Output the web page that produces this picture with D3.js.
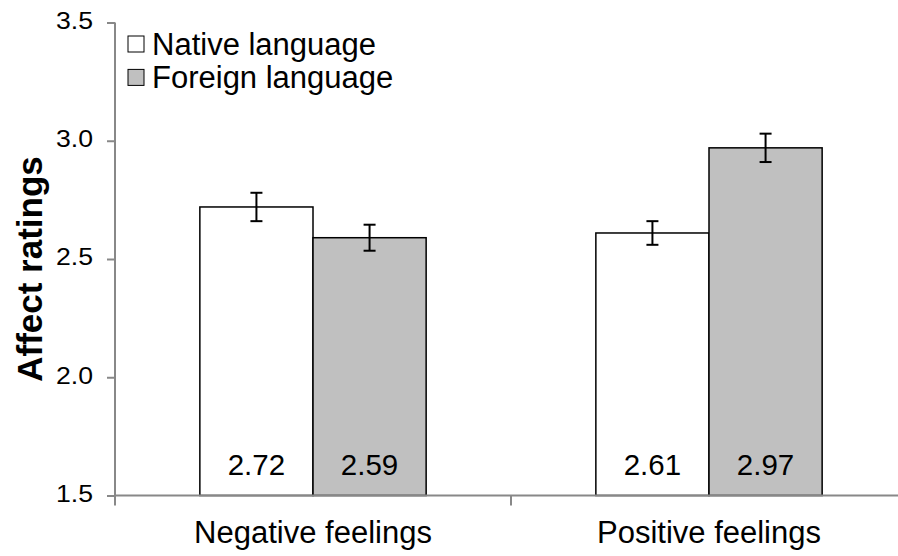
<!DOCTYPE html>
<html>
<head>
<meta charset="utf-8">
<script src="https://cdn.jsdelivr.net/npm/d3@7"></script>
<style>
  html, body { margin: 0; padding: 0; background: #fff; }
  svg { display: block; font-family: "Liberation Sans", Arial, sans-serif; }
</style>
</head>
<body>
<svg id="chart" width="898" height="556"></svg>
<script>
// Affect ratings by feeling type and language
const categories = ["Negative feelings", "Positive feelings"];
const seriesNames = ["Native language", "Foreign language"];
const nativeValues = [2.72, 2.61];
const foreignValues = [2.59, 2.97];
const nativeErrors = [0.06, 0.05];
const foreignErrors = [0.055, 0.06];
const yTicks = [1.5, 2.0, 2.5, 3.0, 3.5];
const yTitle = "Affect ratings";

const seriesFill = ["#ffffff", "#c0c0c0"];
const axisColor = "#888888";

const rows = categories.map((c, i) => ({
  category: c,
  values: [
    { series: seriesNames[0], value: nativeValues[i], err: nativeErrors[i] },
    { series: seriesNames[1], value: foreignValues[i], err: foreignErrors[i] }
  ]
}));

const svg = d3.select("#chart");

const plotLeft = 115, plotRight = 907, plotTop = 22.5, plotBottom = 495.5;

const y = d3.scaleLinear().domain([1.5, 3.5]).range([plotBottom, plotTop]);
const x = d3.scaleBand().domain(categories).range([plotLeft, plotRight]).paddingInner(0).paddingOuter(0);
const xs = d3.scaleBand().domain(seriesNames).range([0, x.bandwidth()]).paddingInner(0).paddingOuter(0.75);

// Bars
const groups = svg.append("g").selectAll("g")
  .data(rows).join("g")
  .attr("transform", d => `translate(${x(d.category)},0)`);

groups.selectAll("rect")
  .data(d => d.values).join("rect")
  .attr("x", d => xs(d.series))
  .attr("y", d => y(d.value))
  .attr("width", xs.bandwidth())
  .attr("height", d => y(1.5) - y(d.value))
  .attr("fill", (d, i) => seriesFill[i])
  .attr("stroke", "#000")
  .attr("stroke-width", 1.5);

// Error bars
const capHalf = 6;
const eb = groups.selectAll("g.err")
  .data(d => d.values).join("g")
  .attr("class", "err")
  .attr("stroke", "#000")
  .attr("stroke-width", 2);
eb.append("line")
  .attr("x1", d => xs(d.series) + xs.bandwidth() / 2)
  .attr("x2", d => xs(d.series) + xs.bandwidth() / 2)
  .attr("y1", d => y(d.value + d.err))
  .attr("y2", d => y(d.value - d.err));
eb.append("line")
  .attr("x1", d => xs(d.series) + xs.bandwidth() / 2 - capHalf)
  .attr("x2", d => xs(d.series) + xs.bandwidth() / 2 + capHalf)
  .attr("y1", d => y(d.value + d.err))
  .attr("y2", d => y(d.value + d.err));
eb.append("line")
  .attr("x1", d => xs(d.series) + xs.bandwidth() / 2 - capHalf)
  .attr("x2", d => xs(d.series) + xs.bandwidth() / 2 + capHalf)
  .attr("y1", d => y(d.value - d.err))
  .attr("y2", d => y(d.value - d.err));

// Value labels inside bars, near the baseline
groups.selectAll("text.val")
  .data(d => d.values).join("text")
  .attr("class", "val")
  .attr("x", d => xs(d.series) + xs.bandwidth() / 2)
  .attr("y", y(1.5) - 20.5)
  .attr("text-anchor", "middle")
  .attr("font-size", 29.5)
  .attr("fill", "#000")
  .text(d => d3.format(".2f")(d.value));

// Y axis
const yAxis = svg.append("g")
  .attr("transform", `translate(${plotLeft},0)`)
  .call(d3.axisLeft(y).tickValues(yTicks).tickFormat(d3.format(".1f")).tickSize(8).tickPadding(14));
yAxis.select(".domain").remove();
yAxis.selectAll(".tick line").attr("stroke", axisColor).attr("stroke-width", 2);
yAxis.selectAll(".tick text")
  .attr("font-family", "Liberation Sans, Arial, sans-serif")
  .attr("font-size", 23)
  .attr("fill", "#000")
  .attr("dy", "0.26em")
  .attr("textLength", 37)
  .attr("lengthAdjust", "spacingAndGlyphs");
svg.append("line")
  .attr("x1", plotLeft).attr("x2", plotLeft)
  .attr("y1", plotTop).attr("y2", plotBottom + 10)
  .attr("stroke", axisColor).attr("stroke-width", 2);

// X axis with boundary ticks between categories
const xAxis = svg.append("g");
xAxis.append("line")
  .attr("x1", plotLeft).attr("x2", plotRight)
  .attr("y1", plotBottom).attr("y2", plotBottom)
  .attr("stroke", axisColor).attr("stroke-width", 2);
xAxis.selectAll("line.bound")
  .data(categories.slice(1)).join("line")
  .attr("class", "bound")
  .attr("x1", d => x(d)).attr("x2", d => x(d))
  .attr("y1", plotBottom).attr("y2", plotBottom + 10)
  .attr("stroke", axisColor).attr("stroke-width", 2);
xAxis.selectAll("text")
  .data(categories).join("text")
  .attr("x", d => x(d) + x.bandwidth() / 2)
  .attr("y", 542.5)
  .attr("text-anchor", "middle")
  .attr("font-size", 31)
  .attr("fill", "#000")
  .text(d => d);

// Y axis title
svg.append("text")
  .attr("transform", "translate(42,269) rotate(-90)")
  .attr("text-anchor", "middle")
  .attr("font-size", 35)
  .attr("font-weight", "bold")
  .attr("fill", "#000")
  .text(yTitle);

// Legend
const legend = svg.append("g").selectAll("g")
  .data(seriesNames).join("g")
  .attr("transform", (d, i) => `translate(128,${44 + i * 33.4})`);
legend.append("rect")
  .attr("x", 0).attr("y", -8)
  .attr("width", 16).attr("height", 16)
  .attr("fill", (d, i) => seriesFill[i])
  .attr("stroke", "#000")
  .attr("stroke-width", 1);
legend.append("text")
  .attr("x", 24)
  .attr("y", 10.5)
  .attr("font-size", 31)
  .attr("fill", "#000")
  .text(d => d);
</script>
</body>
</html>
